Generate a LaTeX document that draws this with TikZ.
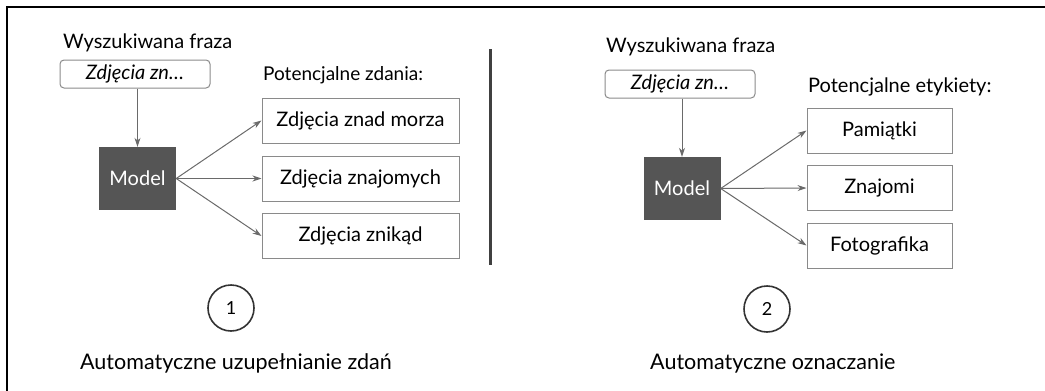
\documentclass[tikz,border=0pt]{standalone}
\usepackage{fontspec}
\setmainfont{Lato}
\usetikzlibrary{arrows.meta}
\definecolor{ramka}{HTML}{8A8A8A}
\definecolor{strzalka}{HTML}{6A6A6A}
\definecolor{modelfill}{HTML}{555555}
\tikzset{
    lbl/.style={font=\fontsize{20}{24}\selectfont, text=black, inner sep=0pt, anchor=west},
    caption/.style={lbl, font=\fontsize{21.5}{26}\selectfont},
    query/.style={draw=ramka, line width=1pt, rounded corners=4pt, minimum width=150pt, minimum height=28pt, inner sep=0pt, font=\fontsize{20}{24}\selectfont\itshape},
    modelbox/.style={fill=modelfill, minimum width=77pt, minimum height=63pt, inner sep=0pt, text=white, font=\fontsize{20}{24}\selectfont},
    outbox/.style={draw=ramka, line width=1pt, minimum height=45pt, inner sep=0pt, font=\fontsize{20}{24}\selectfont},
    num/.style={circle, draw=black!80, line width=1.6pt, minimum size=46pt, inner sep=0pt, font=\fontsize{18}{22}\selectfont},
    arr/.style={draw=strzalka, line width=1pt, -{Stealth[length=9pt,width=6pt]}}
}
\begin{document}
\begin{tikzpicture}[x=1pt,y=-1pt]
    \useasboundingbox (0,0) rectangle (1045,391);
    \draw[line width=2.2pt] (7,391) -- (7,7) -- (1045,7);

    % lewa strona: uzupelnianie zdan
    \node[lbl] (fraza1) at (63,43) {Wyszukiwana fraza};
    \node[query] (query1) at (135,74) {Zdjęcia zn…};
    \node[modelbox] (model1) at (137.5,178.5) {Model};
    \node[lbl, font=\fontsize{19}{23}\selectfont] (pot1) at (263,75) {Potencjalne zdania:};
    \node[outbox, minimum width=197pt] (zd1) at (360.5,120.5) {Zdjęcia znad morza};
    \node[outbox, minimum width=197pt] (zd2) at (360.5,178.5) {Zdjęcia znajomych};
    \node[outbox, minimum width=197pt] (zd3) at (360.5,236) {Zdjęcia znikąd};
    \draw[arr] (query1.south -| model1) -- (model1);
    \draw[arr] (model1.east) -- (zd1.west);
    \draw[arr] (model1.east) -- (zd2.west);
    \draw[arr] (model1.east) -- (zd3.west);
    \node[num] (num1) at (231,308) {1};
    \node[caption] (opis1) at (80,363) {Automatyczne uzupełnianie zdań};

    \draw[line width=3pt, black!75] (490,49) -- (490,265);

    % prawa strona: oznaczanie
    \node[lbl] (fraza2) at (606,47) {Wyszukiwana fraza};
    \node[query] (query2) at (680,84) {Zdjęcia zn…};
    \node[modelbox] (model2) at (682,188.5) {Model};
    \node[lbl] (pot2) at (808,87) {Potencjalne etykiety:};
    \node[outbox, minimum width=145pt] (et1) at (879.5,130.5) {Pamiątki};
    \node[outbox, minimum width=145pt] (et2) at (879.5,188) {Znajomi};
    \node[outbox, minimum width=145pt] (et3) at (879.5,245.5) {Fotografika};
    \draw[arr] (query2.south -| model2) -- (model2);
    \draw[arr] (model2.east) -- (et1.west);
    \draw[arr] (model2.east) -- (et2.west);
    \draw[arr] (model2.east) -- (et3.west);
    \node[num] (num2) at (767,309) {2};
    \node[caption] (opis2) at (650,363) {Automatyczne oznaczanie};

\end{tikzpicture}
\end{document}
